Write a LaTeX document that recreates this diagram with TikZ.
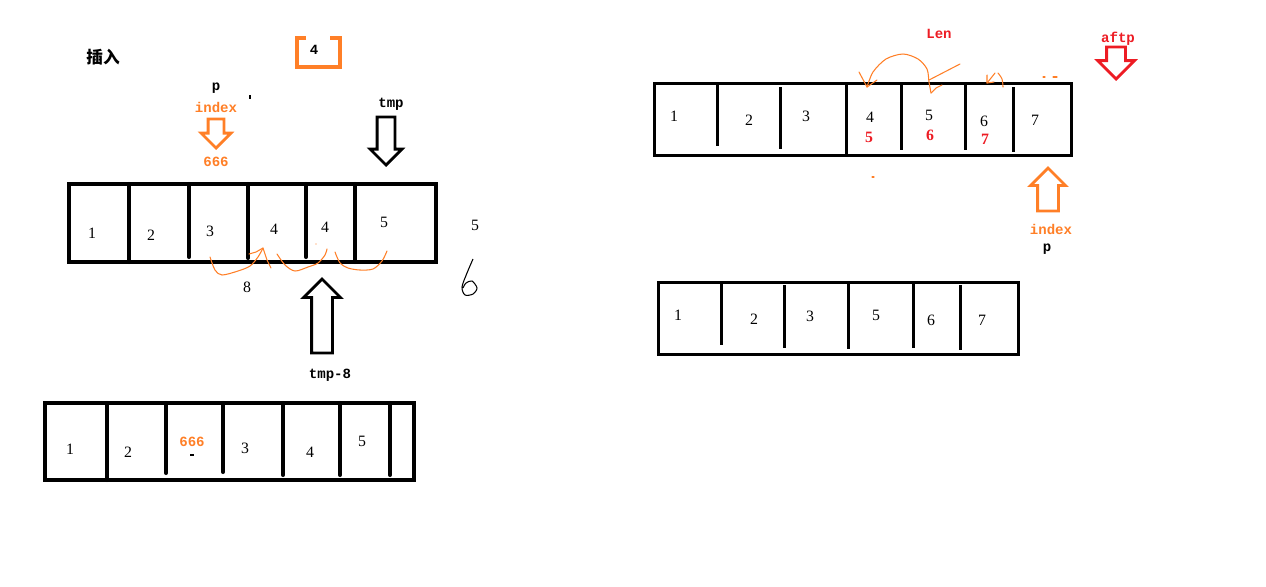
\documentclass[tikz,border=0pt]{standalone}
\usepackage{fontspec}
\setmainfont{Liberation Serif}
\newfontfamily\labelfont{Liberation Mono}
\newfontfamily\cjkfont{Noto Sans CJK SC}
\usetikzlibrary{shapes.arrows}
\definecolor{paintorange}{RGB}{255,127,39}
\definecolor{paintred}{RGB}{237,28,36}

\begin{document}
\begin{tikzpicture}[x=0.02cm, y=-0.02cm,
  num/.style={font=\fontsize{9}{10}\selectfont, inner sep=0pt},
  lbl/.style={font=\labelfont\bfseries\fontsize{8}{9}\selectfont, inner sep=0pt},
  thickbox/.style={line width=2.3pt},
  thinbox/.style={line width=1.7pt},
  hollow/.style={single arrow, draw, line width=1.6pt, inner xsep=0pt,
                 outer sep=0pt, anchor=tip},
  scribble/.style={paintorange, line width=0.6pt, line cap=round, line join=round}
]
  \useasboundingbox (0,0) rectangle (1266,586);

  % title and the value to insert
  \node[font=\cjkfont\bfseries\fontsize{9.5}{11}\selectfont, inner sep=0pt] (title) at (103,57) {插入};
  \draw[paintorange, line width=2.2pt] (306,38) -- (297,38) -- (297,67) -- (340,67) -- (340,38) -- (330,38);
  \node[lbl] (newval) at (314,50) {4};

  % pointers above the first array
  \node[lbl] (pname) at (216,88) {p};
  \draw[line width=0.8pt] (250,95) -- (250,99);
  \node[lbl, paintorange] (idxlbl) at (216,107) {index};
  \node[hollow, draw=paintorange, inner ysep=0.13cm, minimum height=0.58cm,
        single arrow head extend=0.14cm, rotate=-90] (idxarrow) at (216,148) {};
  \node[lbl, paintorange] (sixes) at (216,162) {666};
  \node[lbl] (tmplbl) at (391,104) {tmp};
  \node[hollow, inner ysep=0.15cm, minimum height=0.96cm,
        single arrow head extend=0.14cm, rotate=-90] (tmparrow) at (386,165) {};

  % first array
  \draw[thickbox] (69,184) rectangle (436,262);
  \foreach \x/\b in {129/262, 189/257, 248/258, 306/257, 355/262}
    \draw[thickbox, line cap=round] (\x,184) -- (\x,\b);
  \node[num] (a1) at (92,233) {1};
  \node[num] (a2) at (151,235) {2};
  \node[num] (a3) at (210,231) {3};
  \node[num] (a4) at (274,229) {4};
  \node[num] (a5) at (325,227) {4};
  \node[num] (a6) at (384,222) {5};
  \node[num] (spare) at (475,225) {5};
  \draw[line width=0.6pt] plot[smooth] coordinates {(473,259) (467,273) (462,287) (465,295) (473,294) (477,288) (472,281) (466,283) (463,288)};

  % shifting strokes under the first array
  \draw[scribble] plot[smooth] coordinates {(210,257) (215,270) (222,275) (238,271) (250,266) (258,257) (263,248)};
  \draw[scribble] (249,254) -- (256,252) -- (263,248) -- (267,260) -- (271,268);
  \draw[scribble] plot[smooth] coordinates {(277,254) (285,265) (295,271) (308,267) (318,263) (325,255) (327,249)};
  \draw[scribble] plot[smooth] coordinates {(335,252) (340,263) (348,268) (360,270) (373,269) (382,261) (387,251)};
  \fill[paintorange] (316,244) circle (0.6);
  \node[num] (eight) at (247,287) {8};

  \node[hollow, inner ysep=0.18cm, minimum height=1.48cm,
        single arrow head extend=0.16cm, rotate=90] (tmp8arrow) at (322,279) {};
  \node[lbl] (tmp8lbl) at (330,375) {tmp-8};

  % array after insertion
  \draw[thickbox] (45,403) rectangle (414,480);
  \foreach \x/\b in {107/480, 166/473, 223/472, 283/475, 340/475, 390/475}
    \draw[thickbox, line cap=round] (\x,403) -- (\x,\b);
  \node[num] (b1) at (70,449) {1};
  \node[num] (b2) at (128,452) {2};
  \node[lbl, paintorange] (b3) at (192,442) {666};
  \draw[line width=0.6pt] (190,455) -- (194,455);
  \node[num] (b4) at (245,448) {3};
  \node[num] (b5) at (310,452) {4};
  \node[num] (b6) at (362,441) {5};

  % deletion: array before
  \node[lbl, paintred] (lenlbl) at (939,34) {Len};
  \node[lbl, paintred] (aftplbl) at (1118,39) {aftp};
  \node[hollow, draw=paintred, inner ysep=0.16cm, minimum height=0.64cm,
        single arrow head extend=0.18cm, rotate=-90] (aftparrow) at (1116,79) {};
  \draw[thinbox] (654,83) rectangle (1071,155);
  \foreach \x/\t/\b in {717/83/146, 780/87/149, 846/83/157, 901/83/150, 965/83/150, 1013/87/152}
    \draw[thinbox] (\x,\t) -- (\x,\b);
  \node[num] (c1) at (674,116) {1};
  \node[num] (c2) at (749,120) {2};
  \node[num] (c3) at (806,116) {3};
  \node[num] (c4) at (870,117) {4};
  \node[num, paintred, font=\bfseries\fontsize{9}{10}\selectfont] (c4n) at (869,137) {5};
  \node[num] (c5) at (929,115) {5};
  \node[num, paintred, font=\bfseries\fontsize{9}{10}\selectfont] (c5n) at (930,135) {6};
  \node[num] (c6) at (984,121) {6};
  \node[num, paintred, font=\bfseries\fontsize{9}{10}\selectfont] (c6n) at (985,139) {7};
  \node[num] (c7) at (1035,120) {7};

  % shifting strokes above the array
  \draw[scribble] plot[smooth] coordinates {(867,87) (873,72) (886,59) (903,54) (918,59) (927,69) (929,82) (931,93)};
  \draw[scribble] (859,72) -- (867,87) -- (877,80);
  \draw[scribble] (960,64) -- (929,80);
  \draw[scribble] (931,93) -- (936,88) -- (942,85);
  \draw[scribble] (995,73) -- (987,83);
  \draw[scribble] (987,75) -- (987,83) -- (994,82);
  \draw[scribble] plot[smooth] coordinates {(998,73) (1002,79) (1003,87)};
  \draw[scribble] (1043,77) -- (1045,77);
  \draw[scribble] (1053,77) -- (1057,77);
  \draw[scribble] (872,177) -- (874,177);

  \node[hollow, draw=paintorange, inner ysep=0.18cm, minimum height=0.86cm,
        single arrow head extend=0.14cm, rotate=90] (pidxarrow) at (1048,168) {};
  \node[lbl, paintorange] (pidxlbl) at (1051,229) {index};
  \node[lbl] (pname2) at (1047,249) {p};

  % deletion: array after
  \draw[thinbox] (658,282) rectangle (1018,354);
  \foreach \x/\t/\b in {721/282/345, 784/285/348, 848/282/349, 913/282/348, 960/285/350}
    \draw[thinbox] (\x,\t) -- (\x,\b);
  \node[num] (d1) at (678,315) {1};
  \node[num] (d2) at (754,319) {2};
  \node[num] (d3) at (810,316) {3};
  \node[num] (d4) at (876,315) {5};
  \node[num] (d5) at (931,320) {6};
  \node[num] (d6) at (982,320) {7};
\end{tikzpicture}
\end{document}
